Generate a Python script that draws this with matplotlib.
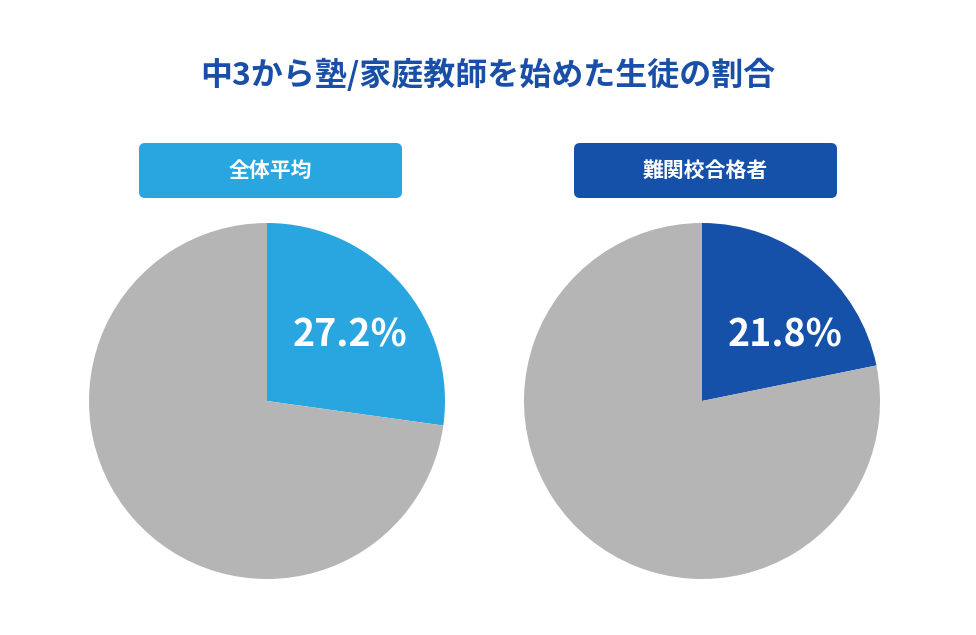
import matplotlib
matplotlib.use("Agg")
import matplotlib.pyplot as plt
from matplotlib.patches import FancyBboxPatch

title = "中3から塾/家庭教師を始めた生徒の割合"
groups = ["全体平均", "難関校合格者"]
values = [27.2, 21.8]
colors = ["#29a6e0", "#1550a9"]
rest_color = "#b5b5b5"

W, H = 976, 635
fig = plt.figure(figsize=(W/100, H/100), dpi=100)
font = "Noto Sans CJK JP"
fig.text(488/W, 1-75/H, title, ha="center", va="center", fontsize=23,
         fontweight="bold", color="#1a4fa8", family=font)

centers = [267, 702]
r = 178
for cx, g, v, c in zip(centers, groups, values, colors):
    ax = fig.add_axes([(cx-r)/W, (H-401-r)/H, 2*r/W, 2*r/H])
    ax.pie([v, 100-v], colors=[c, rest_color], startangle=90, counterclock=False,
           radius=1, wedgeprops=dict(linewidth=0))
    ax.set_xlim(-1, 1); ax.set_ylim(-1, 1); ax.set_aspect("equal"); ax.axis("off")
    fig.text((cx+83)/W, 1-335/H, f"{v}%", ha="center", va="center", fontsize=27,
             fontweight="bold", color="white", family=font)
    bx = fig.add_axes([(cx-128)/W, (H-198)/H, 263/W, 55/H])
    bx.set_xlim(0, 263); bx.set_ylim(0, 55); bx.axis("off")
    bx.add_patch(FancyBboxPatch((0, 0), 263, 55, boxstyle="round,pad=0,rounding_size=6",
                                fc=c, ec="none"))
    bx.text(131.5, 27.5, g, ha="center", va="center", fontsize=15, fontweight="bold",
            color="white", family=font)

fig.savefig("out.png", dpi=100, facecolor="white")
